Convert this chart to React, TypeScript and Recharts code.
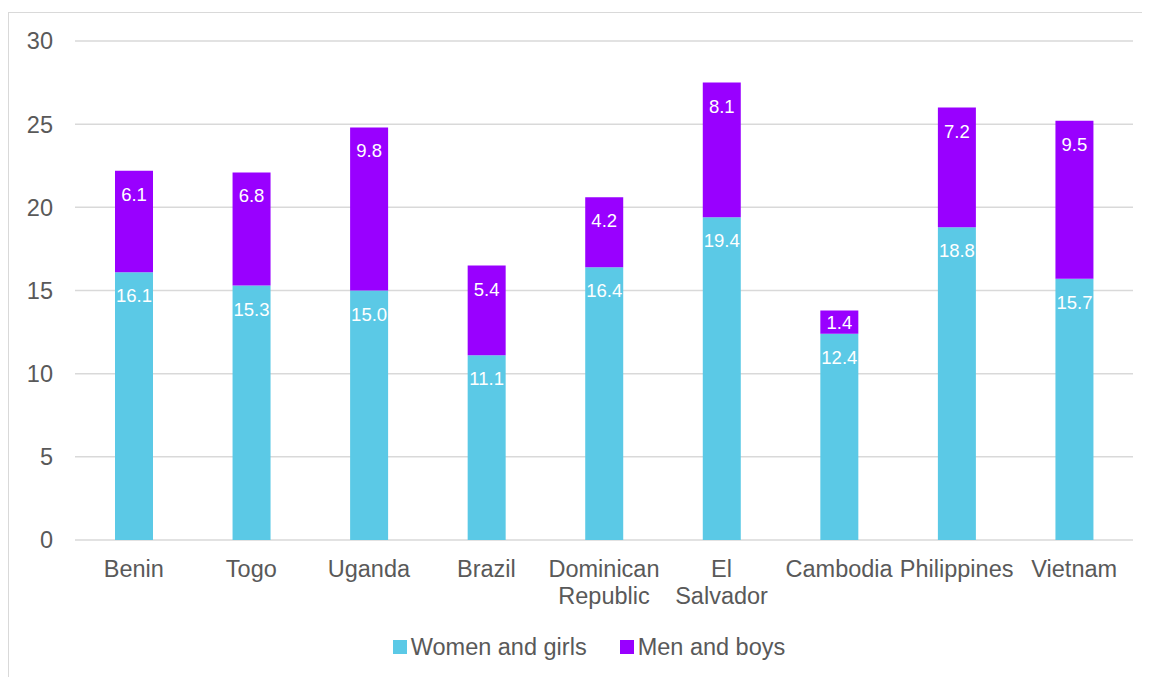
import { BarChart, Bar, XAxis, YAxis, CartesianGrid, Legend, LabelList } from "recharts";

const countries = [
    "Benin", "Togo", "Uganda", "Brazil", "Dominican Republic",
    "El Salvador", "Cambodia", "Philippines", "Vietnam",
];
const womenAndGirls = [16.1, 15.3, 15.0, 11.1, 16.4, 19.4, 12.4, 18.8, 15.7];
const menAndBoys = [6.1, 6.8, 9.8, 5.4, 4.2, 8.1, 1.4, 7.2, 9.5];
const yTicks = [0, 5, 10, 15, 20, 25, 30];

// labels that Excel wrapped onto two lines
const wrapped: Record<string, string[]> = {
    "Dominican Republic": ["Dominican", "Republic"],
    "El Salvador": ["El", "Salvador"],
};

const FONT = "'Liberation Sans', Arial, sans-serif";
const TEXT = "#595959";
const CYAN = "#5BC9E6";
const PURPLE = "#9900FF";
const AXIS_FS = 23.5;

const data = countries.map((c, i) => ({
    country: c,
    women: womenAndGirls[i],
    men: menAndBoys[i],
}));

function CountryTick({ x, y, payload }: any) {
    const lines = wrapped[payload.value] ?? [payload.value];
    return (
        <text x={x} y={y + 29} textAnchor="middle" fill={TEXT} fontSize={AXIS_FS} fontFamily={FONT}>
            {lines.map((l, i) => (
                <tspan key={i} x={x} dy={i === 0 ? 0 : 27}>{l}</tspan>
            ))}
        </text>
    );
}

function insideLabel({ x, y, width, height, value }: any) {
    // inside end; short segments get the label centred
    const by = height < 40 ? y + height / 2 + 7 : y + 30;
    return (
        <text x={x + width / 2} y={by} textAnchor="middle" fill="#ffffff" fontSize={18.5} fontFamily={FONT}>
            {Number(value).toFixed(1)}
        </text>
    );
}

function LegendBox() {
    const items = [
        { name: "Women and girls", color: CYAN },
        { name: "Men and boys", color: PURPLE },
    ];
    return (
        <div style={{ display: "flex", justifyContent: "center", gap: 33, height: 40, alignItems: "center", paddingLeft: 20, fontFamily: FONT, fontSize: AXIS_FS, color: TEXT }}>
            {items.map((it) => (
                <div key={it.name} style={{ display: "flex", alignItems: "center" }}>
                    <span style={{ width: 14, height: 14, background: it.color, marginRight: 4, display: "inline-block" }} />
                    <span>{it.name}</span>
                </div>
            ))}
        </div>
    );
}

export default function App() {
    return (
        <div style={{ width: 1142, height: 669, overflow: "hidden" }}>
            <div style={{ marginTop: 4, width: 1200, height: 720, border: "1px solid #d9d9d9", boxSizing: "border-box", background: "#fff" }}>
                <BarChart
                    width={1141}
                    height={664}
                    data={data}
                    margin={{ top: 28, right: 17, bottom: 10, left: 16 }}
                    barSize={38}
                >
                    <CartesianGrid vertical={false} stroke="#d9d9d9" strokeWidth={1.5} />
                    <XAxis
                        dataKey="country"
                        axisLine={false}
                        tickLine={false}
                        height={87}
                        interval={0}
                        tick={<CountryTick />}
                    />
                    <YAxis
                        domain={[0, 30]}
                        ticks={yTicks}
                        width={50}
                        axisLine={false}
                        tickLine={false}
                        tickMargin={16}
                        tick={{ fontSize: AXIS_FS, fill: TEXT, fontFamily: FONT }}
                    />
                    <Legend verticalAlign="bottom" height={40} content={() => <LegendBox />} />
                    <Bar dataKey="women" name="Women and girls" stackId="a" fill={CYAN} isAnimationActive={false}>
                        <LabelList dataKey="women" content={insideLabel} />
                    </Bar>
                    <Bar dataKey="men" name="Men and boys" stackId="a" fill={PURPLE} isAnimationActive={false}>
                        <LabelList dataKey="men" content={insideLabel} />
                    </Bar>
                </BarChart>
            </div>
        </div>
    );
}
